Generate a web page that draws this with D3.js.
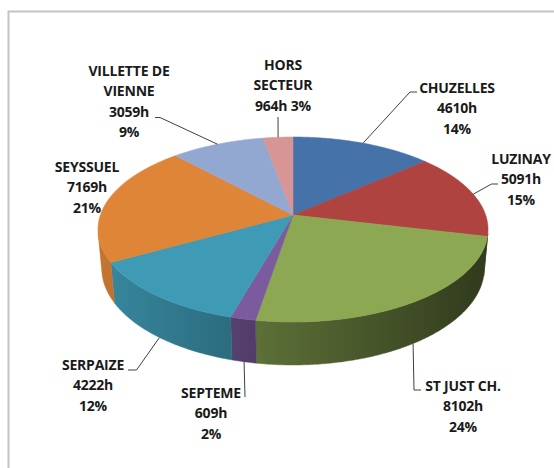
<!DOCTYPE html>
<html>
<head>
<meta charset="utf-8">
<script src="https://cdn.jsdelivr.net/npm/d3@7"></script>
<style>
  body { margin: 0; background: #fff; }
  svg { display: block; }
</style>
</head>
<body>
<div id="chart"></div>
<script>
// Data (hours per commune, clockwise from 12 o'clock)
const communes = ["CHUZELLES", "LUZINAY", "ST JUST CH.", "SEPTEME", "SERPAIZE", "SEYSSUEL", "VILLETTE DE VIENNE", "HORS SECTEUR"];
const hours = [4610, 5091, 8102, 609, 4222, 7169, 3059, 964];
const percents = ["14%", "15%", "24%", "2%", "12%", "21%", "9%", "3%"];

// label text lines (how Excel wrapped them)
const labelLines = [
    ["CHUZELLES", "4610h", "14%"],
    ["LUZINAY", "5091h", "15%"],
    ["ST JUST CH.", "8102h", "24%"],
    ["SEPTEME", "609h", "2%"],
    ["SERPAIZE", "4222h", "12%"],
    ["SEYSSUEL", "7169h", "21%"],
    ["VILLETTE DE", "VIENNE", "3059h", "9%"],
    ["HORS", "SECTEUR", "964h 3%"]
];

const colors = ["#4672AA", "#AE4340", "#8CA853", "#7B5B9E", "#3F9BB5", "#DF8537", "#93A8D1", "#D79595"];

// Label placement: centre x, first baseline, leader route (rim -> elbow -> text), which rim
const labelX = [457, 521, 463, 211, 93, 87, 129, 283];
const labelY = [93, 164, 391, 398, 370, 172, 76, 70];
const leaderPts = [
    [[410, 92], [417, 92]],
    [[491.5, 184], [498, 184]],
    [[414, 390], [421, 390]],
    [[245, 397]],
    [[136.5, 370], [128, 370]],
    null,
    [[160, 117.5], [155, 117.5]],
    [[278, 117]]
];
const leaderOnBottom = [false, false, true, true, true, false, false, false];

const width = 554, height = 468;

const svg = d3.select("#chart").append("svg")
    .attr("width", width)
    .attr("height", height);

//Chart frame
svg.append("rect")
    .attr("x", 8.5)
    .attr("y", 11.5)
    .attr("width", 600)
    .attr("height", 500)
    .attr("fill", "none")
    .attr("stroke", "#c4c4c4")
    .attr("stroke-width", 2);

//3D projection of the pie (perspective, like Excel's 3-D pie)
const R = 192.6, depth = 44.3, camDist = 1086;
const sinP = 0.4683, cosP = Math.sqrt(1 - sinP * sinP);
const cx = 293, cy = 215;

function project(theta, y, r) {
    if (r === undefined) r = R;
    const x = r * Math.sin(theta), z = -r * Math.cos(theta);
    const yc = y * cosP - z * sinP;
    const zc = y * sinP + z * cosP;
    const s = camDist / (camDist - zc);
    return [cx + x * s, cy - yc * s];
}

function rim(a0, a1, y) {
    const n = Math.max(2, Math.ceil(Math.abs(a1 - a0) / (Math.PI / 360)));
    return d3.range(n + 1).map(i => project(a0 + (a1 - a0) * i / n, y));
}

const pie = d3.pie().sort(null).startAngle(0).endAngle(2 * Math.PI);
const arcs = pie(hours);

const line = d3.line();

//Wall gradients, darker to the right
const defs = svg.append("defs");
colors.forEach(function (c, i) {
    const g = defs.append("linearGradient")
        .attr("id", "wall" + i)
        .attr("gradientUnits", "userSpaceOnUse")
        .attr("x1", cx - R).attr("x2", cx + R)
        .attr("y1", 0).attr("y2", 0);
    g.append("stop").attr("offset", 0).attr("stop-color", d3.interpolateRgb(c, "#000")(0.12));
    g.append("stop").attr("offset", 1).attr("stop-color", d3.interpolateRgb(c, "#000")(0.65));
});

// visible part of the cylinder wall
const visA = Math.acos(-R / (camDist * cosP));
const visB = 2 * Math.PI - visA;

const wallG = svg.append("g");
arcs.forEach(function (d, i) {
    const b0 = Math.max(d.startAngle, visA), b1 = Math.min(d.endAngle, visB);
    if (b1 <= b0) return;
    const pts = rim(b0, b1, 0).concat(rim(b1, b0, -depth));
    wallG.append("path")
        .attr("d", line(pts) + "Z")
        .attr("fill", "url(#wall" + i + ")")
        .attr("stroke", "url(#wall" + i + ")")
        .attr("stroke-width", 0.5);
});

//Top faces
const topG = svg.append("g");
arcs.forEach(function (d, i) {
    const pts = [project(0, 0, 0)].concat(rim(d.startAngle, d.endAngle, 0));
    topG.append("path")
        .attr("d", line(pts) + "Z")
        .attr("fill", colors[i])
        .attr("stroke", colors[i])
        .attr("stroke-width", 0.6);
});

//Leader lines
arcs.forEach(function (d, i) {
    if (!leaderPts[i]) return;
    const mid = (d.startAngle + d.endAngle) / 2;
    const start = project(mid, leaderOnBottom[i] ? -depth : 0);
    svg.append("path")
        .attr("d", line([start].concat(leaderPts[i])))
        .attr("fill", "none")
        .attr("stroke", "#404040")
        .attr("stroke-width", 1);
});

//Labels
labelLines.forEach(function (lines, i) {
    const t = svg.append("text")
        .attr("x", labelX[i])
        .attr("y", labelY[i])
        .attr("text-anchor", "middle")
        .style("font-family", "'Open Sans', sans-serif")
        .style("font-weight", "bold")
        .style("font-size", "14px")
        .style("letter-spacing", "-0.2px")
        .attr("fill", "#1a1a1a");
    lines.forEach(function (l, j) {
        t.append("tspan")
            .attr("x", labelX[i])
            .attr("dy", j === 0 ? 0 : 20.3)
            .text(l);
    });
});
</script>
</body>
</html>
